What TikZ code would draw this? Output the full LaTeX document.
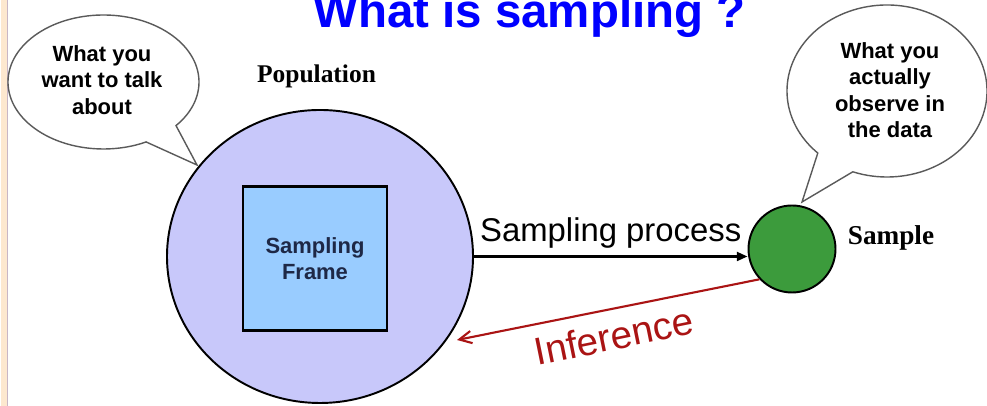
\documentclass[tikz,border=0pt]{standalone}
\usepackage{fontspec}
\setmainfont{Liberation Serif}
\setsansfont{Liberation Sans}
\usepackage{tikz}
\usetikzlibrary{arrows.meta}
\usetikzlibrary{shapes.geometric}

\definecolor{popfill}{RGB}{200,200,250}
\definecolor{framefill}{RGB}{153,204,255}
\definecolor{framefont}{RGB}{30,40,70}
\definecolor{samplefill}{RGB}{60,155,60}
\definecolor{infred}{RGB}{170,20,20}
\definecolor{bubbleline}{RGB}{90,90,90}
\definecolor{stripbeige}{RGB}{253,232,207}
\definecolor{stripline}{RGB}{200,182,198}

\tikzset{
	bubble/.style = {draw = bubbleline, fill = white, line width = 0.8pt},
	bubbletext/.style = {align = center, font = \sffamily\bfseries\fontsize{12.5}{15}\selectfont},
	seriflabel/.style = {anchor = base, inner sep = 0, font = \rmfamily\bfseries\fontsize{14.5}{17}\selectfont}
}

\begin{document}
\begin{tikzpicture}
	\useasboundingbox (0,0) rectangle (19.74,8.12);
	\fill [stripbeige] (0.03,0) rectangle (0.135,8.12);
	\draw [stripline, line width = 1pt] (0.15,0) -- (0.15,8.12);
	
	\node [anchor = base west, inner sep = 0, blue, font = \sffamily\bfseries\fontsize{27}{32}\selectfont] (title) at (6.26,7.57) {What is sampling ?};
	
	\node [ellipse, draw, line width = 1.1pt, fill = popfill, minimum width = 6.12cm, minimum height = 5.86cm, inner sep = 0] (pop) at (6.40,2.99) {};
	\node [rectangle, draw, line width = 1.2pt, fill = framefill, minimum size = 2.88cm, align = center, text = framefont, font = \sffamily\bfseries\fontsize{12.5}{14.7}\selectfont] (frame) at (6.30,2.95) {Sampling\\Frame};
	\node [circle, draw, line width = 1.1pt, fill = samplefill, minimum size = 1.74cm, inner sep = 0] (smp) at (15.84,3.14) {};
	
	\node [seriflabel] (poplabel) at (6.33,6.46) {Population};
	\node [seriflabel, font = \rmfamily\bfseries\fontsize{15.5}{18}\selectfont] (smplabel) at (17.82,3.22) {Sample};
	
	\draw [bubble] (2.07,6.48) ++(-40.6:1.91 and 1.34) arc [start angle = -40.6, end angle = 296.5, x radius = 1.91, y radius = 1.34] -- (3.94,4.82) -- cycle;
	\node [bubbletext] (talk) at (2.04,6.52) {What you\\want to talk\\about};
	
	\draw [bubble] (17.74,6.30) ++(250:2.0 and 1.72) arc [start angle = 250, end angle = 586.2, x radius = 2.0, y radius = 1.72] -- (16.04,4.08) -- cycle;
	\node [bubbletext] (observe) at (17.8,6.32) {What you\\actually\\observe in\\the data};
	
	\draw [-{Triangle[length = 6pt, width = 5pt]}, line width = 1.3pt] (pop.east) -- (pop.east -| smp.west) node [midway, above, inner sep = 4pt, font = \sffamily\fontsize{18.7}{22}\selectfont] (proclabel) {Sampling process};
	
	\coordinate (inftip) at (9.14,1.32);
	\draw [-{Straight Barb[length = 7pt, width = 7pt]}, infred, line width = 1.2pt] (smp.223) -- (inftip);
	\node [infred, rotate = 11.5, font = \sffamily\fontsize{22}{26}\selectfont] (inflabel) at (12.28,1.40) {Inference};
\end{tikzpicture}
\end{document}
